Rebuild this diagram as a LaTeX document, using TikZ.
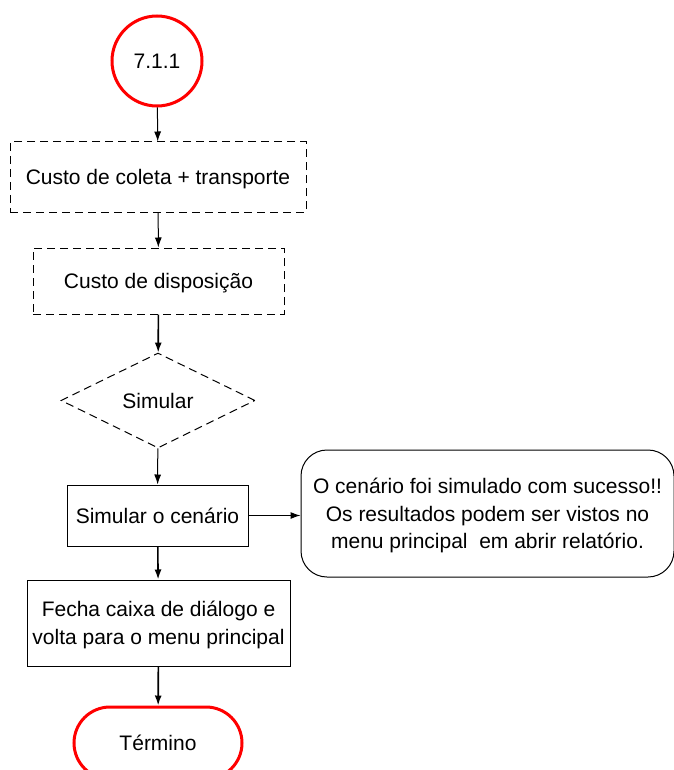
\documentclass[tikz,border=0pt]{standalone}
\usepackage{fontspec}
\setmainfont{Liberation Sans}
\usetikzlibrary{arrows.meta,shapes.geometric}

\begin{document}
\begin{tikzpicture}[x=1pt,y=-1pt,>={Latex[length=10pt,width=7pt]},
    every node/.style={font=\fontsize{21}{27.5}\selectfont,align=center,inner sep=0pt,text depth=0pt},
    caixa/.style={draw,rectangle,line width=1pt},
    tracejado/.style={caixa,dash pattern=on 8pt off 5pt},
    inicio/.style={draw=red,circle,line width=3pt,minimum size=90pt},
    fim/.style={draw=red,rectangle,rounded corners=36pt,line width=3pt,minimum width=168pt,minimum height=72pt},
    seta/.style={->,line width=1pt},
    setagrossa/.style={->,line width=1.6pt}]
			\useasboundingbox (0,0) rectangle (673,770);
			\node[inicio] (conector) at (157,61) {7.1.1};
			\node[tracejado, minimum width=296pt, minimum height=70pt] (coleta) at (158,177) {Custo de coleta + transporte};
			\node[tracejado, minimum width=251pt, minimum height=66pt] (disposicao) at (158.5,281) {Custo de disposição};
			\node[draw, diamond, line width=1pt, dash pattern=on 8pt off 5pt, aspect=2, minimum width=194pt, minimum height=95pt] (decisao) at (158,400.5) {Simular};
			\node[caixa, minimum width=181pt, minimum height=61pt] (simular) at (157.5,515.5) {Simular o cenário};
			\node[caixa, rounded corners=26pt, minimum width=373pt, minimum height=127pt] (mensagem) at (487.5,513.5) {O cenário foi simulado com sucesso!!\\Os resultados podem ser vistos no\\menu principal\ \ em abrir relatório.};
			\node[caixa, minimum width=263pt, minimum height=86pt] (fecha) at (158.5,623) {Fecha caixa de diálogo e\\volta para o menu principal};
			\node[fim] (termino) at (158,743) {Término};
			% ligacoes
			\draw[seta] (conector) -- (coleta);
			\draw[seta] (coleta) -- (disposicao);
			\draw[setagrossa] (disposicao) -- (decisao);
			\draw[seta] (decisao) -- (simular);
			\draw[seta] (simular.east) -- (simular.east -| mensagem.west);
			\draw[setagrossa] (simular) -- (fecha);
			\draw[setagrossa] (fecha) -- (termino);
		\end{tikzpicture}
\end{document}
